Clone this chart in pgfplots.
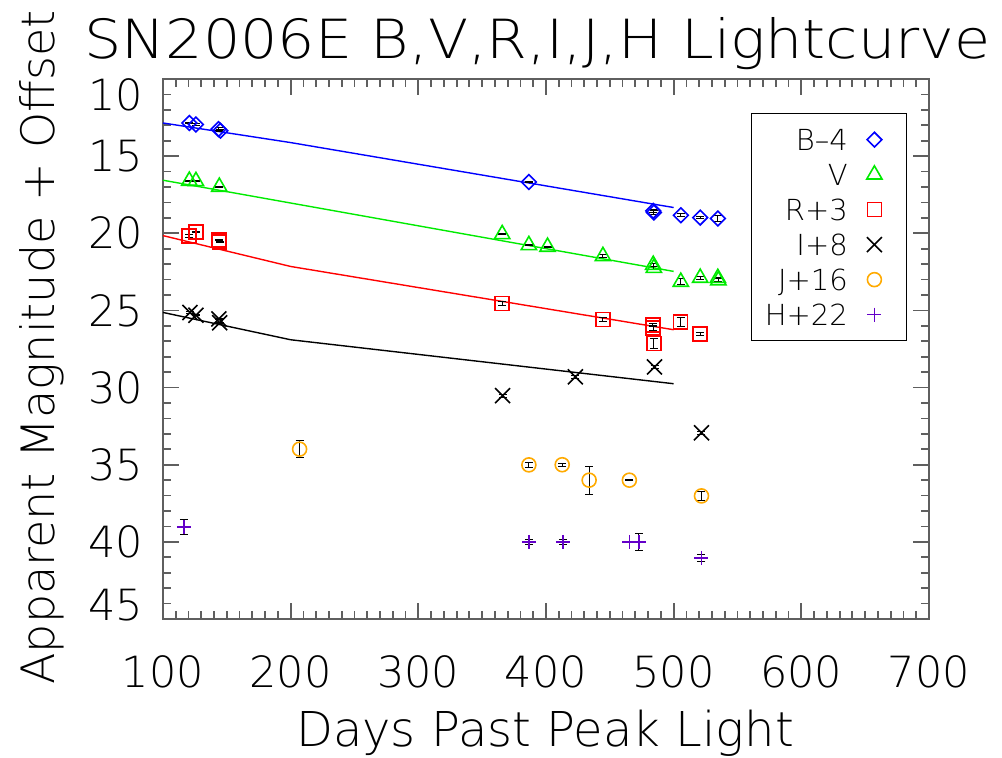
\documentclass[border=0pt]{standalone}
\usepackage{fontspec}
\setmainfont{DejaVu Sans ExtraLight}
\usepackage{pgfplots}
\pgfplotsset{compat=1.18}
\usepackage{pgfplotstable}
\definecolor{framegray}{RGB}{95,95,95}
\definecolor{vgreen}{RGB}{0,235,0}
\definecolor{jorange}{RGB}{255,170,0}
\definecolor{hpurple}{RGB}{100,0,200}
\pgfplotsset{mylegimg/.style={legend image code/.code={\path[draw=none, fill=none] (-3.5pt,0pt) -- (9.5pt,0pt); \draw[##1] plot coordinates {(0pt,0pt)};}}}

\pgfplotstableread{
x y e
120.6 12.85 0.05
125.8 12.95 0.05
143.5 13.25 0.08
145.0 13.35 0.08
386.6 16.67 0.05
484.0 18.55 0.10
484.5 18.65 0.10
505.6 18.83 0.10
520.8 18.98 0.05
534.6 19.04 0.20
}\bdata
\pgfplotstableread{
x y e
120.6 16.60 0.05
125.8 16.62 0.05
144.1 16.99 0.05
365.7 20.06 0.05
386.6 20.77 0.05
401.2 20.88 0.05
444.6 21.48 0.10
484.0 22.05 0.10
484.5 22.25 0.10
505.6 23.15 0.20
520.8 22.89 0.10
534.6 22.90 0.05
535.0 23.05 0.10
}\vdata
\pgfplotstableread{
x y e
120.6 20.17 0.10
125.8 19.93 0.05
143.8 20.42 0.05
144.4 20.57 0.05
365.7 24.55 0.10
444.6 25.59 0.15
483.7 25.95 0.10
484.0 26.15 0.15
484.5 27.14 0.30
505.4 25.74 0.30
520.8 26.54 0.10
}\rdata
\pgfplotstableread{
x y e
121.1 25.13 0.05
125.8 25.31 0.05
143.8 25.55 0.05
144.4 25.80 0.05
366.0 30.52 0.10
423.0 29.30 0.10
485.0 28.66 0.10
521.8 32.93 0.10
}\idata
\pgfplotstableread{
x y e
207.0 33.99 0.53
386.6 35.01 0.15
412.7 35.00 0.10
433.8 36.00 0.91
465.3 36.00 0.05
521.8 37.02 0.30
}\jdata
\pgfplotstableread{
x y e
116.3 39.03 0.47
386.6 40.00 0.15
413.3 40.00 0.15
465.3 40.00 0.05
472.8 40.00 0.55
521.8 41.04 0.20
}\hdata

\begin{document}
\begin{tikzpicture}
\path[use as bounding box] (-81.5pt,-69pt) rectangle (419.5pt,309.5pt);
\begin{axis}[
  at={(0,0)}, anchor=south west,
  scale only axis, width=383pt, height=270pt,
  xmin=100, xmax=700, ymin=10, ymax=45, y dir=reverse,
  xtick={100,200,...,700}, ytick={10,15,...,45},
  yticklabels={,15,20,25,30,35,40,},
  minor x tick num=9, minor y tick num=4,
  major tick length=8pt, minor tick length=4pt,
  tick align=inside,
  axis line style={framegray, line width=1pt},
  tick style={framegray, line width=0.9pt},
  /pgf/number format/assume math mode=true,
  /pgf/number format/1000 sep={},
  tick label style={font=\fontsize{21.5}{24}\selectfont},
  xticklabel style={anchor=base, yshift=-34pt, inner sep=0pt},
  yticklabel style={anchor=east, xshift=-9.75pt, inner sep=0pt},
  clip=false,
  legend cell align=right, legend plot pos=right,
  legend style={at={(0.9713,0.937)}, anchor=north east, draw=black, line width=0.6pt,
    fill=white, font=\fontsize{14.5}{17}\selectfont,
    inner xsep=6.5pt, inner ysep=7.5pt, row sep=6.5pt, column sep=9.5pt,
    nodes={inner sep=0pt, text height=11pt, text depth=0pt}},
  error bars/y dir=both, error bars/y explicit,
  error bars/error bar style={black, line width=0.5pt},
  error bars/error mark options={black, line width=0.5pt, mark size=2pt, rotate=90},
]
% fitted lines
\addplot[blue, line width=0.7pt, forget plot, no marks] coordinates {(100,12.85) (200,14.12) (500,18.33)};
\addplot[vgreen, line width=0.7pt, forget plot, no marks] coordinates {(100,16.56) (500,22.47)};
\addplot[red, line width=0.7pt, forget plot, no marks] coordinates {(100,20.15) (200,22.15) (500,26.25)};
\addplot[black, line width=0.7pt, forget plot, no marks] coordinates {(100,25.13) (200,26.9) (500,29.75)};
% data
\addplot[only marks, mylegimg, blue, mark=square, mark size=2.6pt, mark options={rotate=45, line width=0.8pt}]
  table[x=x, y=y, y error=e] {\bdata};
\addlegendentry{B–4}
\addplot[only marks, mylegimg, vgreen, mark=triangle, mark size=4.4pt, mark options={line width=0.8pt}]
  table[x=x, y=y, y error=e] {\vdata};
\addlegendentry{V}
\addplot[only marks, mylegimg, red, mark=square, mark size=3.5pt, mark options={line width=0.8pt}]
  table[x=x, y=y, y error=e] {\rdata};
\addlegendentry{R+3}
\addplot[only marks, mylegimg, black, mark=x, mark size=5.3pt, mark options={line width=0.8pt}]
  table[x=x, y=y, y error=e] {\idata};
\addlegendentry{I+8}
\addplot[only marks, mylegimg, jorange, mark=o, mark size=3.5pt, mark options={line width=0.8pt}]
  table[x=x, y=y, y error=e] {\jdata};
\addlegendentry{J+16}
\addplot[only marks, mylegimg, hpurple, mark=+, mark size=3.5pt, mark options={line width=0.8pt}]
  table[x=x, y=y, y error=e] {\hdata};
\addlegendentry{H+22}
\end{axis}
% end tick labels shifted inward
\node[anchor=east, inner sep=0pt, font=\fontsize{21.5}{24}\selectfont] at (-9.75pt,262pt) {10};
\node[anchor=east, inner sep=0pt, font=\fontsize{21.5}{24}\selectfont] at (-9.75pt,7pt) {45};
% title and labels
\node[anchor=base, inner sep=0pt, font=\fontsize{27}{30}\selectfont] at (187.25pt,280.5pt) {\scalebox{1.088}[1]{SN2006E B,V,R,I,J,H Lightcurve}};
\node[anchor=base, inner sep=0pt, font=\fontsize{24}{26}\selectfont] at (191pt,-63.5pt) {Days Past Peak Light};
\node[anchor=base, rotate=90, inner sep=0pt, font=\fontsize{23}{26}\selectfont] at (-54pt,135.75pt) {Apparent Magnitude + Offset};
\end{tikzpicture}
\end{document}
